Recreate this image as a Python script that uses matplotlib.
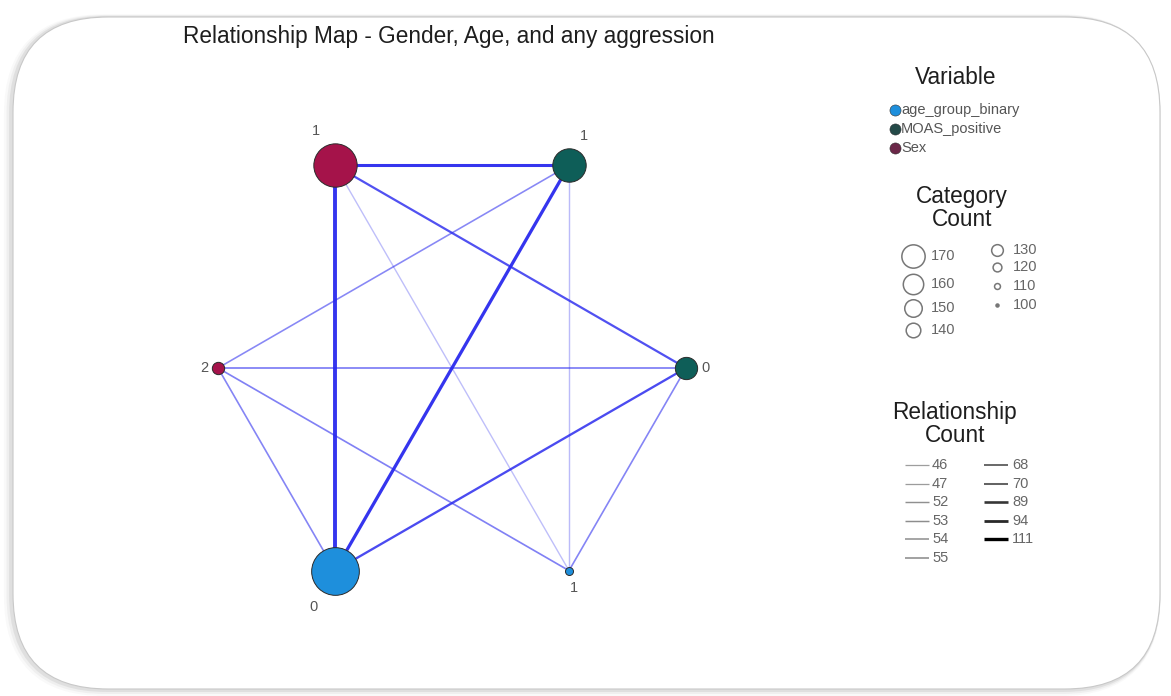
import numpy as np
import matplotlib
matplotlib.use("Agg")
import matplotlib.pyplot as plt
from matplotlib.patches import FancyBboxPatch

plt.rcParams["font.family"] = ["Liberation Sans", "DejaVu Sans"]

# ── data ─────────────────────────────────────────────────────
title = "Relationship Map - Gender, Age, and any aggression"

variables = ["age_group_binary", "MOAS_positive", "Sex"]
var_colors = {"age_group_binary": "#1E8FDC", "MOAS_positive": "#0E5E58", "Sex": "#A5134A"}
legend_colors = {"age_group_binary": "#1E8FDC", "MOAS_positive": "#244A48", "Sex": "#6B2748"}

# nodes, in order round the circle (starting upper-left, clockwise)
node_var = ["Sex", "MOAS_positive", "MOAS_positive", "age_group_binary", "age_group_binary", "Sex"]
node_cat = ["1", "1", "0", "1", "0", "2"]
node_count = [157, 141, 123, 100, 164, 107]

# edges: (node i, node j, relationship count)
edge_i = [0, 0, 0, 0, 5, 5, 5, 5, 1, 1, 2, 2]
edge_j = [1, 2, 4, 3, 1, 2, 4, 3, 4, 3, 4, 3]
edge_count = [89, 68, 111, 46, 52, 55, 53, 54, 94, 47, 70, 53]

cat_legend_left = [170, 160, 150, 140]
cat_legend_right = [130, 120, 110, 100]
rel_legend_left = [46, 47, 52, 53, 54, 55]
rel_legend_right = [68, 70, 89, 94, 111]

# ── figure in pixel coordinates ──────────────────────────────
W, H = 1171, 696
fig = plt.figure(figsize=(W / 100, H / 100), dpi=100)
ax = fig.add_axes([0, 0, 1, 1])
ax.set_xlim(0, W)
ax.set_ylim(H, 0)
ax.axis("off")

# rounded frame with a soft shadow
for k, a in [(7, 0.04), (5, 0.07), (3, 0.12)]:
    ax.add_patch(FancyBboxPatch((13 - k * 0.6, 17 + k * 0.3), 1147, 672,
                                boxstyle="round,pad=0,rounding_size=95",
                                fc="none", ec="#707070", lw=k, alpha=a, zorder=0))
ax.add_patch(FancyBboxPatch((13, 17), 1147, 672,
                            boxstyle="round,pad=0,rounding_size=95",
                            fc="white", ec="#c8c8c8", lw=0.8, zorder=0.5))

ax.text(183, 37, title, fontsize=16.3, color="#1e1e1e", va="center", ha="left")

# ── network ──────────────────────────────────────────────────
cx, cy, R = 452, 368, 234
angles = np.radians([120, 60, 0, -60, -120, 180])
nx = cx + R * np.cos(angles)
ny = cy - R * np.sin(angles)

cmin, cmax = min(edge_count), max(edge_count)
for i, j, c in zip(edge_i, edge_j, edge_count):
    t = (c - cmin) / (cmax - cmin)
    ax.plot([nx[i], nx[j]], [ny[i], ny[j]], color="#2A2AEE",
            lw=1.0 + 1.8 * t, alpha=0.3 + 0.65 * min(1, t * 1.6 + (0.25 if c > 50 else 0)),
            solid_capstyle="butt", zorder=1)

def node_radius(c):
    return 4 + (c - 100) * 0.31

for k in range(len(node_var)):
    r = node_radius(node_count[k])
    ax.plot(nx[k], ny[k], "o", ms=2 * r * 0.72, mfc=var_colors[node_var[k]],
            mec="#2a2a2a", mew=0.7, zorder=3)
    # label placed outward from the centre
    ang = angles[k]
    if abs(np.cos(ang)) > 0.9:
        lx = nx[k] + np.sign(np.cos(ang)) * (r + 8)
        ly = ny[k]
    else:
        side = -1 if np.cos(ang) < 0 else 1
        lx = nx[k] + side * (r * 0.8 + 2)
        ly = ny[k] - np.sign(np.sin(ang)) * (r + 13)
    ax.text(lx, ly, node_cat[k], fontsize=10.5, color="#555555",
            ha="center", va="center", zorder=4)

# ── legend: Variable ─────────────────────────────────────────
ax.text(956, 78, "Variable", fontsize=16.3, color="#1e1e1e", ha="center", va="center")
for k, v in enumerate(variables):
    y = 110 + k * 19
    ax.plot(895, y, "o", ms=8, mfc=legend_colors[v], mec="#333333", mew=0.4)
    ax.text(901, y, v, fontsize=10.5, color="#555555", ha="left", va="center")

# ── legend: Category Count ───────────────────────────────────
ax.text(962, 208, "Category\nCount", fontsize=16.3, color="#1e1e1e",
        ha="center", va="center", linespacing=1.0)

def legend_circle(c):
    # diameter in pixels
    return 3 + (c - 100) * 0.29

for k, c in enumerate(cat_legend_left):
    y = [256, 284, 308, 330][k]
    d = legend_circle(c)
    ax.plot(913, y, "o", ms=d * 0.72, mfc="none", mec="#777777", mew=1.1)
    ax.text(931, y, str(c), fontsize=10.5, color="#666666", ha="left", va="center")
for k, c in enumerate(cat_legend_right):
    y = [250, 267, 286, 305][k]
    d = legend_circle(c)
    ax.plot(997, y, "o", ms=d * 0.72, mfc="none" if c > 100 else "#777777",
            mec="#777777", mew=1.1)
    ax.text(1013, y, str(c), fontsize=10.5, color="#666666", ha="left", va="center")

# ── legend: Relationship Count ───────────────────────────────
ax.text(955, 424, "Relationship\nCount", fontsize=16.3, color="#1e1e1e",
        ha="center", va="center", linespacing=1.0)

def legend_line(x0, y, c):
    t = (c - cmin) / (cmax - cmin)
    g = 0.62 * (1 - t)
    ax.plot([x0, x0 + 24], [y, y], color=(g, g, g), lw=0.9 + 1.5 * t,
            solid_capstyle="butt")

for k, c in enumerate(rel_legend_left):
    y = 465 + k * 18.6
    legend_line(905, y, c)
    ax.text(932, y, str(c), fontsize=10.5, color="#666666", ha="left", va="center")
for k, c in enumerate(rel_legend_right):
    y = 465 + k * 18.6
    legend_line(984, y, c)
    ax.text(1012, y, str(c), fontsize=10.5, color="#666666", ha="left", va="center")

fig.savefig("out.png", dpi=100, facecolor="white")
